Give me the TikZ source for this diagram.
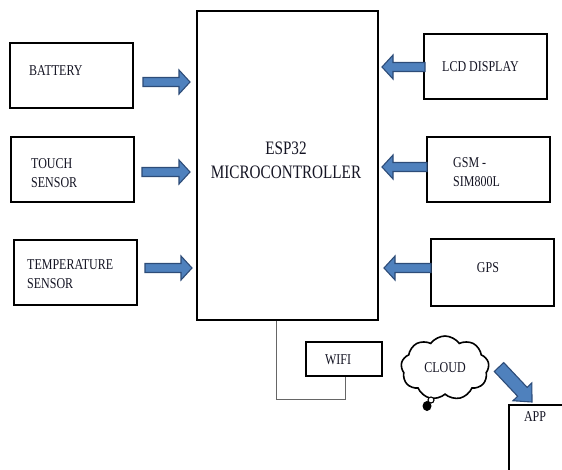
\documentclass[tikz,border=0pt]{standalone}
\usepackage{fontspec}
\setmainfont[FakeStretch=0.8]{Liberation Serif}
\usetikzlibrary{calc,shapes.symbols}

\definecolor{arrowfill}{RGB}{79,129,189}
\definecolor{arrowline}{RGB}{45,76,120}
\definecolor{labeltext}{RGB}{20,20,35}

\tikzset{
  box/.style={draw,line width=1.6pt,inner sep=0pt},
  lbl/.style={text=labeltext,inner sep=0pt,align=left,font=\fontsize{15}{19}\selectfont},
  barrow/.style={fill=arrowfill,draw=arrowline,line width=1.1pt,line join=miter},
  wire/.style={draw=gray!80!black,line width=1.1pt}
}

% block arrow: from, to, half shaft, half head, head length
\newcommand{\blockarr}[5]{%
  \coordinate (ah) at ($(#2)!#5!(#1)$);
  \filldraw[barrow] ($(#1)!#3!90:(#2)$) -- ($(ah)!#3!90:(#2)$) -- ($(ah)!#4!90:(#2)$)
    -- (#2) -- ($(ah)!#4!-90:(#2)$) -- ($(ah)!#3!-90:(#2)$) -- ($(#1)!#3!-90:(#2)$) -- cycle;
}

\begin{document}
\begin{tikzpicture}[x=1pt,y=-1pt]
    \useasboundingbox (0,0) rectangle (562,469);
    \clip (0,0) rectangle (562,469);
    % main block
    \node[box,line width=1.4pt,minimum width=181,minimum height=309] (mcu) at (287.5,165.5) {};
    \node[lbl,font=\fontsize{19}{24}\selectfont,align=center] (mcu-t) at (286,160) {ESP32\\MICROCONTROLLER};
    % inputs
    \node[box,minimum width=123,minimum height=65] (batt) at (71.5,75.5) {};
    \node[box,minimum width=123,minimum height=65] (touch) at (72.5,169.5) {};
    \node[box,minimum width=123,minimum height=65] (temp) at (75.5,272.5) {};
    \node[lbl,anchor=west] (batt-t) at (29,71) {BATTERY};
    \node[lbl,anchor=west] (touch-t) at (31,173.5) {TOUCH\\SENSOR};
    \node[lbl,anchor=west] (temp-t) at (27,274.5) {TEMPERATURE\\SENSOR};
    % outputs
    \node[box,minimum width=123,minimum height=65] (lcd) at (485.5,66.5) {};
    \node[box,minimum width=123,minimum height=65] (gsm) at (488.5,169.5) {};
    \node[box,minimum width=123,minimum height=67] (gps) at (492.5,272.5) {};
    \node[lbl,anchor=west] (lcd-t) at (442,67) {LCD DISPLAY};
    \node[lbl,anchor=west] (gsm-t) at (453,172.5) {GSM -\\SIM800L};
    \node[lbl] (gps-t) at (488,268) {GPS};
    % arrows
    \coordinate (a1s) at (143,82);  \coordinate (a1e) at (190,82);
    \coordinate (a2s) at (142,172); \coordinate (a2e) at (190,172);
    \coordinate (a3s) at (145,268); \coordinate (a3e) at (192,268);
    \coordinate (b1s) at (425,67);  \coordinate (b1e) at (382,67);
    \coordinate (b2s) at (427,167); \coordinate (b2e) at (382,167);
    \coordinate (b3s) at (431,268); \coordinate (b3e) at (384,268);
    \foreach \a in {a1,a2,a3,b1,b2,b3}
      {\blockarr{\a s}{\a e}{4.5pt}{12pt}{11pt}}
    % wifi, cloud, app
    \node[box,minimum width=76,minimum height=34] (wifi) at (344,359) {};
    \node[lbl] (wifi-t) at (338,360) {WIFI};
    \draw[wire] ([xshift=80]mcu.south west) -- ++(0,79) -| ([xshift=40]wifi.south west);
    \node[cloud,draw,line width=1.6pt,cloud puffs=9,cloud puff arc=110,aspect=1.4,
          minimum width=88,minimum height=64,inner sep=0pt,text=labeltext,
          font=\fontsize{15}{19}\selectfont] (cloud) at (445,368) {CLOUD};
    \fill (427,406) ellipse (4.5 and 5);
    \filldraw[fill=white,line width=1.1pt] (431,400) circle (3);
    \draw[box] (509,405) rectangle (580,490);
    \node[lbl] (app-t) at (535,417) {APP};
    \coordinate (c1s) at (499,367); \coordinate (c1e) at (532,402);
    \blockarr{c1s}{c1e}{6.5pt}{13pt}{14pt}
\end{tikzpicture}
\end{document}
